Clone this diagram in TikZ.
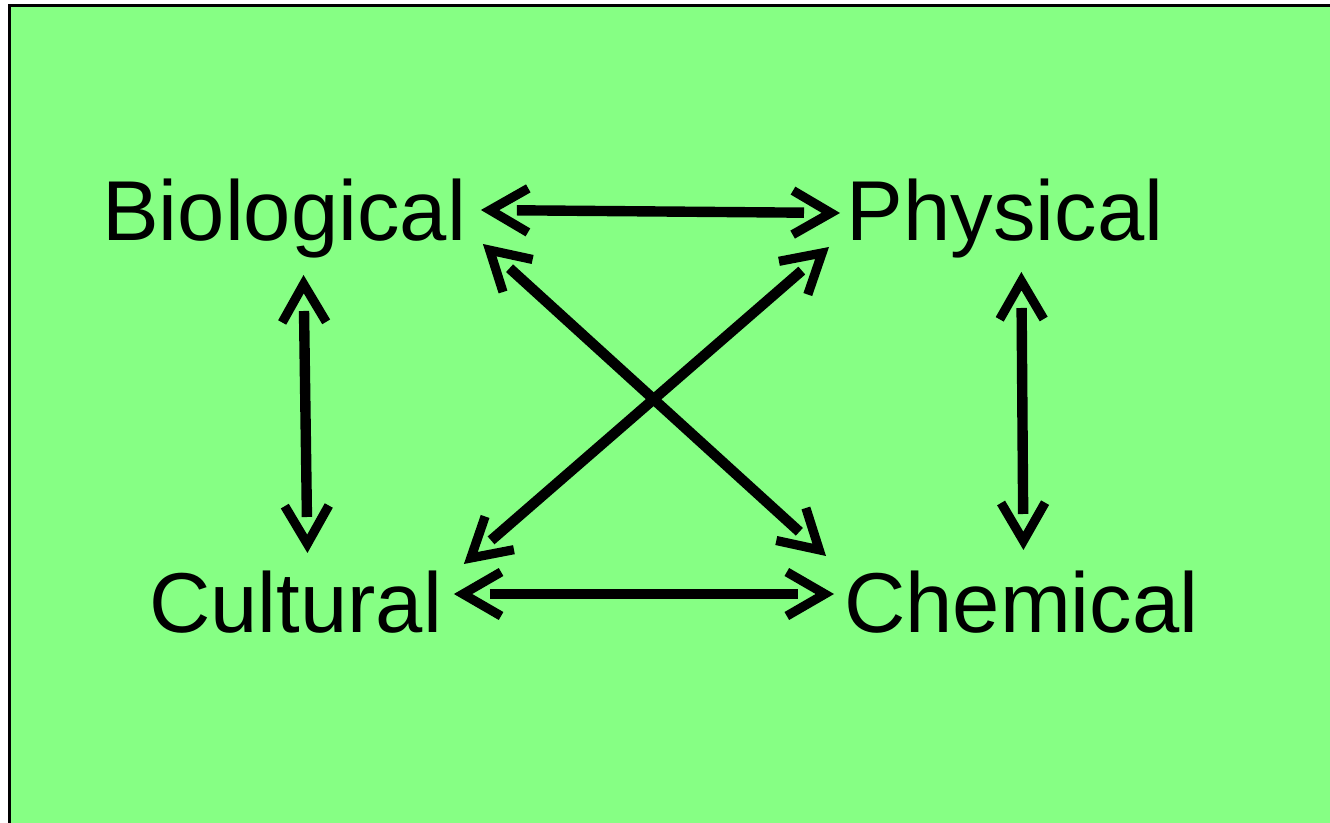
\documentclass[tikz,border=0pt]{standalone}
\usepackage{fontspec}
\setmainfont{Liberation Sans}
\usepackage{xcolor}
\usepackage{tikz}
\usetikzlibrary{arrows.meta, positioning, calc}
\definecolor{bggreen}{RGB}{134,255,132}

\begin{document}
\begin{tikzpicture}[
    x=0.5pt, y=-0.5pt,
    field/.style={font=\fontsize{42.5}{50}\selectfont, inner sep=0pt, anchor=base west},
    link/.style={line width=5.2pt, shorten <=18pt, shorten >=18pt},
    barbs/.style={tips, <->, >={Straight Barb[length=19pt, width=22pt]}, line width=4.6pt}
]

\useasboundingbox (0,0) rectangle (1330,823);
\clip (0,0) rectangle (1330,823);
\draw[line width=1.6pt, fill=bggreen] (9.5,5.5) rectangle (1345,840);

\node[field] (bio) at (101.8,241) {Biological};
\node[field] (phy) at (846.5,241) {Physical};
\node[field] (cul) at (148.8,633) {Cultural};
\node[field] (chem) at (843.8,633) {Chemical};

% horizontal links
\draw[link] ([shift={(14.5,-31)}]bio.base east) -- ([shift={(-6.5,-28)}]phy.base west);
\path[barbs] ([shift={(14.5,-31)}]bio.base east) -- ([shift={(-6.5,-28)}]phy.base west);
\draw[link] ([shift={(11.4,-39)}]cul.base east) -- ([shift={(-9.8,-39)}]chem.base west);
\path[barbs] ([shift={(11.4,-39)}]cul.base east) -- ([shift={(-9.8,-39)}]chem.base west);

% vertical links
\draw[link] ([shift={(19.4,34)}]bio.base) -- ([shift={(11.8,-80)}]cul.base);
\path[barbs] ([shift={(19.4,34)}]bio.base) -- ([shift={(11.8,-80)}]cul.base);
\draw[link] ([shift={(16.2,31)}]phy.base) -- ([shift={(2.1,-83)}]chem.base);
\path[barbs] ([shift={(16.2,31)}]phy.base) -- ([shift={(2.1,-83)}]chem.base);

% diagonal links
\draw[link] ([shift={(16.5,3)}]bio.base east) -- ([shift={(-17.8,-77)}]chem.base west);
\path[barbs] ([shift={(16.5,3)}]bio.base east) -- ([shift={(-17.8,-77)}]chem.base west);
\draw[link] ([shift={(-17.5,6)}]phy.base west) -- ([shift={(21.4,-69)}]cul.base east);
\path[barbs] ([shift={(-17.5,6)}]phy.base west) -- ([shift={(21.4,-69)}]cul.base east);

\end{tikzpicture}
\end{document}
